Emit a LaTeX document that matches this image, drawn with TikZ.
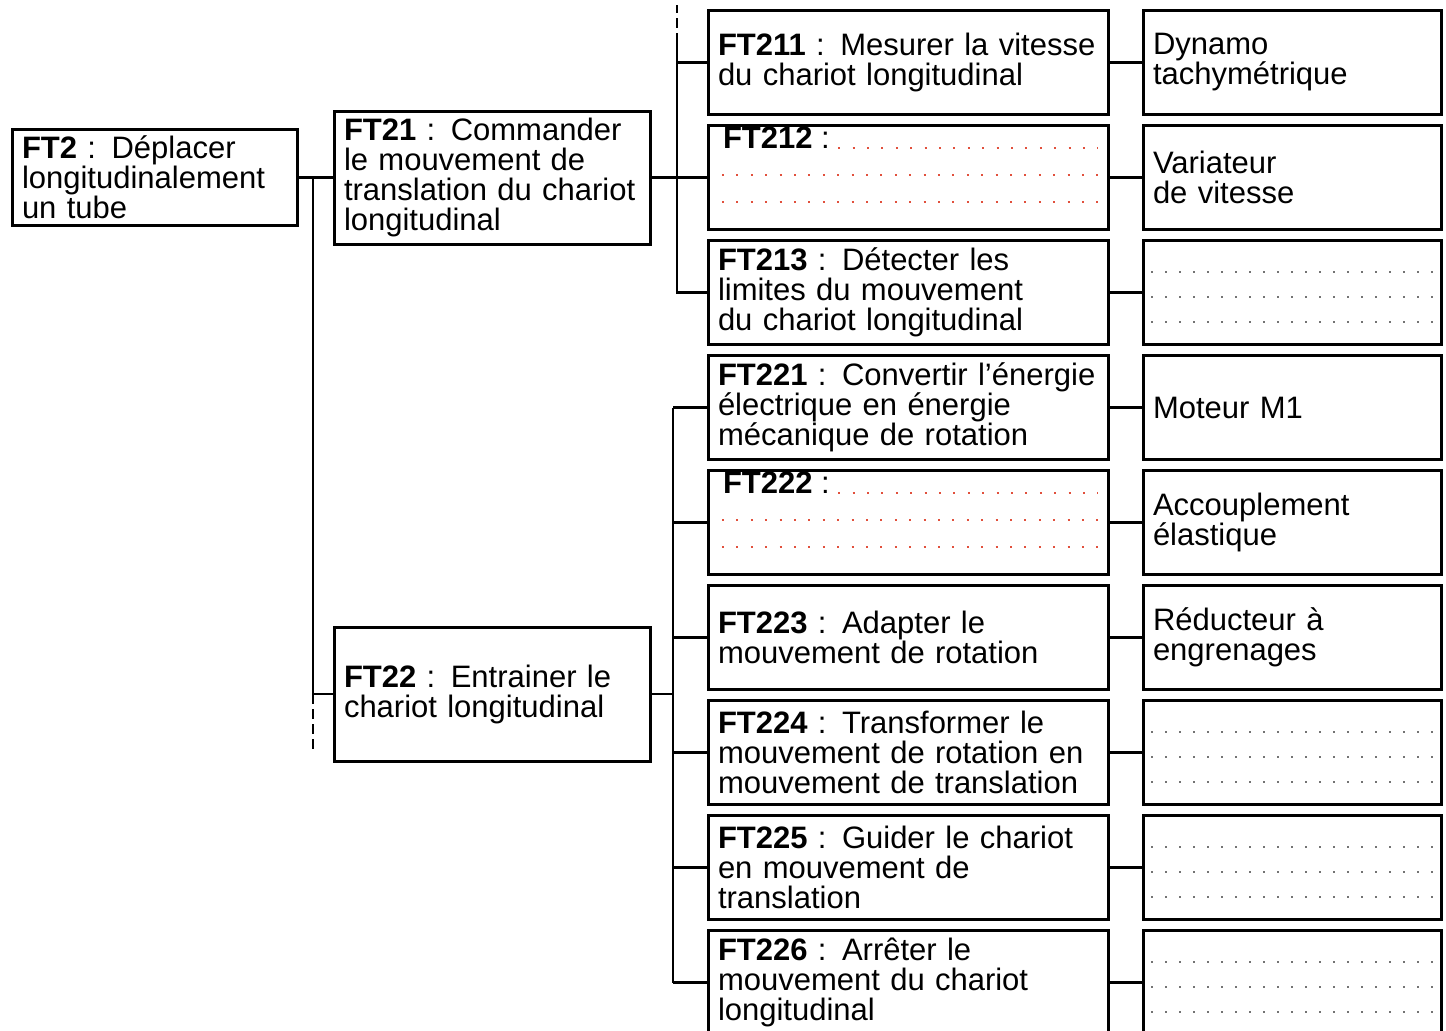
\documentclass[tikz,border=0pt]{standalone}
\usepackage{fontspec}
\setmainfont{Liberation Sans}
\usetikzlibrary{positioning}
\definecolor{rougepoint}{RGB}{225,80,60}

\begin{document}
\begin{tikzpicture}[texte/.style={font=\fontsize{15.5pt}{15pt}\selectfont}, boite/.style={rectangle, draw, line width=1.5pt, outer sep=0pt, inner xsep=5pt, align=left, texte}, fonction/.style={boite, minimum width=200pt, text width=190pt, minimum height=52pt}, solution/.style={boite, minimum width=149pt, text width=139pt, minimum height=52pt}, mere/.style={boite, minimum width=158pt, text width=148pt, minimum height=66.5pt}, lien/.style={line width=1.2pt}, tirets/.style={lien, dash pattern=on 5pt off 2.5pt}, pointrouge/.style={draw=rougepoint, line width=1pt, dash pattern=on 1pt off 6.2pt}, pointgris/.style={draw=black!55, line width=1pt, dash pattern=on 1pt off 6pt}, node distance=5.5pt]

        \useasboundingbox (0,0) rectangle (723pt,-515pt);
        \clip (0,0) rectangle (723pt,-515pt);

        \node[mere] (ft21) at (246pt,-88.75pt) {\textbf{FT21} : Commander\\le mouvement de\\translation du chariot\\longitudinal};
        \node[boite, minimum width=142.5pt, text width=132.5pt, minimum height=47pt, left=18.5pt of ft21] (ft2) {\textbf{FT2} : Déplacer\\longitudinalement\\un tube};
        \node[mere, minimum height=67pt, below=191.5pt of ft21] (ft22) {\textbf{FT22} : Entrainer le\\chariot longitudinal};

        \node[fonction, right=29pt of ft21] (ft212) {};
        \node[fonction, above=of ft212] (ft211) {\textbf{FT211} : Mesurer la vitesse\\du chariot longitudinal};
        \node[fonction, below=of ft212] (ft213) {\textbf{FT213} : Détecter les\\limites du mouvement\\du chariot longitudinal};
        \node[fonction, below=of ft213] (ft221) {\textbf{FT221} : Convertir l’énergie\\électrique en énergie\\mécanique de rotation};
        \node[fonction, below=of ft221] (ft222) {};
        \node[fonction, below=of ft222] (ft223) {\textbf{FT223} : Adapter le\\mouvement de rotation};
        \node[fonction, below=of ft223] (ft224) {\textbf{FT224} : Transformer le\\mouvement de rotation en\\mouvement de translation};
        \node[fonction, below=of ft224] (ft225) {\textbf{FT225} : Guider le chariot\\en mouvement de\\translation};
        \node[fonction, below=of ft225] (ft226) {\textbf{FT226} : Arrêter le\\mouvement du chariot\\longitudinal};

        \node[solution, right=17.5pt of ft211] (s211) {Dynamo\\tachymétrique};
        \node[solution, right=17.5pt of ft212] (s212) {Variateur\\de vitesse};
        \node[solution, right=17.5pt of ft213] (s213) {};
        \node[solution, right=17.5pt of ft221] (s221) {Moteur M1};
        \node[solution, right=17.5pt of ft222] (s222) {Accouplement\\élastique};
        \node[solution, right=17.5pt of ft223] (s223) {Réducteur à\\engrenages};
        \node[solution, right=17.5pt of ft224] (s224) {};
        \node[solution, right=17.5pt of ft225] (s225) {};
        \node[solution, right=17.5pt of ft226] (s226) {};

        \node[texte, anchor=base west, inner sep=0pt] (ft212t) at ([xshift=7.3pt,yshift=-11.5pt]ft212.north west) {\textbf{FT212} :};
        \node[texte, anchor=base west, inner sep=0pt] (ft222t) at ([xshift=7.3pt,yshift=-11.5pt]ft222.north west) {\textbf{FT222} :};

        \coordinate (t2) at ([xshift=-10.5pt]ft21.west);
        \coordinate (t21) at ([xshift=13.5pt]ft21.east);
        \coordinate (t22) at ([xshift=11.5pt]ft22.east);

        \path[draw, lien] (ft2.east) -- (ft21.west);
        \path[draw, lien] (t2) |- (ft22.west);
        \path[draw, tirets] (t2 |- ft22.west) -- ++(0,-28pt);

        \path[draw, lien] (ft21.east) -- (ft212.west);
        \path[draw, lien] ([yshift=10pt]t21 |- ft211.west) |- (ft211.west);
        \path[draw, lien] (t21 |- ft211.west) |- (ft213.west);
        \path[draw, tirets] ([yshift=10pt]t21 |- ft211.west) -- ++(0,19pt);

        \path[draw, lien] (ft22.east) -- (t22);
        \path[draw, lien] (t22 |- ft221.west) -- (t22 |- ft226.west);
        \foreach \f in {221,222,223,224,225,226}
            \path[draw, lien] (t22 |- ft\f.west) -- (ft\f.west);

        \foreach \f in {211,212,213,221,222,223,224,225,226}
            \path[draw, lien] (ft\f.east) -- (s\f.west);

        \foreach \f in {ft212,ft222} {
            \path[pointrouge] ([xshift=4pt,yshift=0.5pt]\f t.base east) -- ([xshift=-5pt,yshift=-11pt]\f.north east);
            \foreach \dy in {24.5pt,38pt}
                \path[pointrouge] ([xshift=7pt,yshift=-\dy]\f.north west) -- ([xshift=-5pt,yshift=-\dy]\f.north east);
        }

        \foreach \s in {s213,s224,s225,s226}
            \foreach \dy in {15.5pt,28pt,40.5pt}
                \path[pointgris] ([xshift=4pt,yshift=-\dy]\s.north west) -- ([xshift=-4pt,yshift=-\dy]\s.north east);
\end{tikzpicture}
\end{document}
